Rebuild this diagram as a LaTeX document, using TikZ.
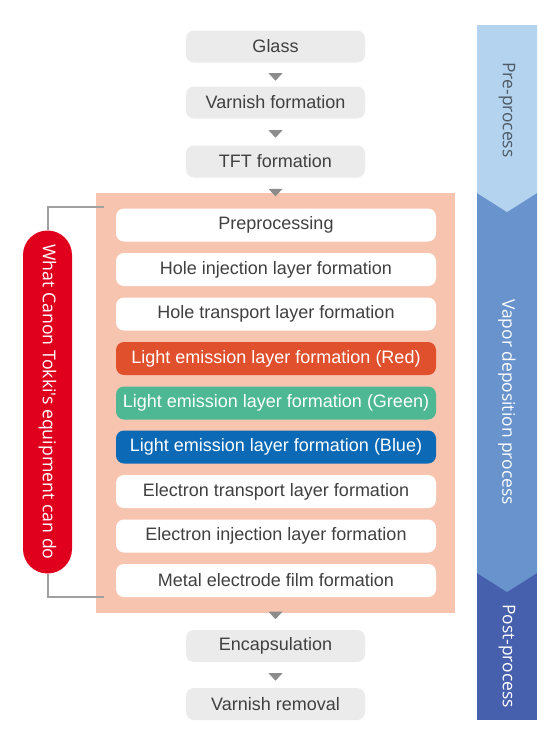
\documentclass[tikz,border=0pt]{standalone}
\usepackage{fontspec}
\setmainfont{Liberation Sans}
\newfontfamily\segoe{Open Sans}
\usetikzlibrary{calc}
\definecolor{boxgray}{HTML}{EBEBEB}
\definecolor{txtgray}{HTML}{404040}
\definecolor{arrowgray}{HTML}{8C8C8C}
\definecolor{salmon}{HTML}{F7C5AF}
\definecolor{lered}{HTML}{E1502C}
\definecolor{legreen}{HTML}{4DB893}
\definecolor{leblue}{HTML}{0B69B6}
\definecolor{pillred}{HTML}{E0001E}
\definecolor{brgray}{HTML}{A0A0A0}
\definecolor{bluepre}{HTML}{B4D3EF}
\definecolor{bluevap}{HTML}{6893CD}
\definecolor{bluepost}{HTML}{4760AE}
\definecolor{pretxt}{HTML}{4F5B66}
\tikzset{
  graybox/.style={fill=boxgray, rounded corners=8pt, minimum width=179pt, minimum height=32pt, inner sep=0pt, text=txtgray},
  innerbox/.style={fill=white, rounded corners=8pt, minimum width=320pt, minimum height=33pt, inner sep=0pt, text=txtgray},
  colbox/.style={innerbox, fill=#1, text=white},
  bracket/.style={draw=brgray, line width=2pt},
  vtext/.style={rotate=-90, font=\segoe\fontsize{17.4}{20}\selectfont, inner sep=0pt}
}
\newcommand\dtri[1]{\fill[arrowgray] ($#1+(-7,-3.5)$) -- ($#1+(7,-3.5)$) -- ($#1+(0,4)$) -- cycle;}
\begin{document}
\begin{tikzpicture}[x=1pt,y=-1pt,font=\fontsize{18}{21}\selectfont]
\useasboundingbox (0,0) rectangle (560,748);
\fill[white] (0,0) rectangle (560,748);

% right process bar
\fill[bluepost] (477,573) rectangle (537,720);
\fill[bluevap] (477,193) -- (537,193) -- (537,573) -- (507,592) -- (477,573) -- cycle;
\fill[bluepre] (477,25) -- (537,25) -- (537,193) -- (507,212) -- (477,193) -- cycle;
\node[vtext, text=pretxt] (pre) at (507,110) {Pre-process};
\node[vtext, text=white] (vap) at (507,402) {Vapor deposition process};
\node[vtext, text=white] (post) at (507,656) {Post-process};

% top gray boxes
\node[graybox] (glass) at (275.5,46.5) {Glass};
\node[graybox] (varn) at (275.5,102.5) {Varnish formation};
\node[graybox] (tft) at (275.5,161.5) {TFT formation};

% salmon block
\node[fill=salmon, minimum width=359pt, minimum height=420pt, inner sep=0pt] (block) at (275.5,403) {};
\node[innerbox] (b1) at (276,225) {Preprocessing};
\node[innerbox] (b2) at (276,269.5) {Hole injection layer formation};
\node[innerbox] (b3) at (276,314) {Hole transport layer formation};
\node[colbox=lered] (b4) at (276,358.5) {Light emission layer formation (Red)};
\node[colbox=legreen] (b5) at (276,403) {Light emission layer formation (Green)};
\node[colbox=leblue] (b6) at (276,447) {Light emission layer formation (Blue)};
\node[innerbox] (b7) at (276,491.5) {Electron transport layer formation};
\node[innerbox] (b8) at (276,536) {Electron injection layer formation};
\node[innerbox] (b9) at (276,580.5) {Metal electrode film formation};

% bottom gray boxes
\node[graybox] (enc) at (275.5,646) {Encapsulation};
\node[graybox] (vrem) at (275.5,704) {Varnish removal};

% triangles
\coordinate (t1) at ($(glass.south)+(0,14)$);
\coordinate (t2) at ($(varn.south)+(0,15)$);
\coordinate (t3) at ($(block.north)+(0,-0.5)$);
\coordinate (t4) at ($(block.south)+(0,2)$);
\coordinate (t5) at ($(enc.south)+(0,14.5)$);
\dtri{(t1)}
\dtri{(t2)}
\dtri{(t3)}
\dtri{(t4)}
\dtri{(t5)}

% red pill and bracket
\node[fill=pillred, text=white, rotate=-90, minimum width=343pt, minimum height=49pt, rounded corners=24.5pt, inner sep=0pt, font=\segoe\fontsize{17.7}{20}\selectfont] (pill) at (47.5,402) {What Canon Tokki's equipment can do};
\coordinate (bt) at (104,207);
\coordinate (bb) at (104,597);
\draw[bracket] (bt) -| (pill.west);
\draw[bracket] (bb) -| (pill.east);
\end{tikzpicture}
\end{document}
